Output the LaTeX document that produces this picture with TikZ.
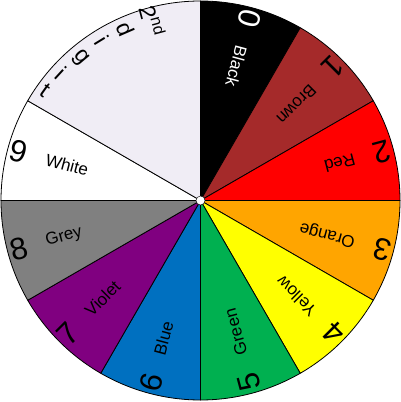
\documentclass[tikz,border=0pt]{standalone}
\usepackage{fontspec}
\setmainfont{Liberation Sans}
\definecolor{cbrown}{RGB}{165,42,42}
\definecolor{cred}{RGB}{255,0,0}
\definecolor{corange}{RGB}{255,165,0}
\definecolor{cyellow}{RGB}{255,255,0}
\definecolor{cgreen}{RGB}{0,176,80}
\definecolor{cblue}{RGB}{0,112,192}
\definecolor{cviolet}{RGB}{128,0,128}
\definecolor{cgrey}{RGB}{128,128,128}
\definecolor{clav}{RGB}{240,237,245}
\tikzset{
  seg/.style={draw=black, line width=0.8pt, line join=round},
  namelbl/.style={anchor=west, inner sep=0pt, font=\fontsize{17}{20}\selectfont},
  diglbl/.style={inner sep=0pt, font=\fontsize{31}{36}\selectfont},
  arclbl/.style={inner sep=0pt, font=\fontsize{23}{27}\selectfont}
}
\begin{document}
\begin{tikzpicture}[x=1pt,y=1pt]
\useasboundingbox (0,0) rectangle (401,402);
\coordinate (O) at (200.5,201.5);
\foreach \a/\b/\col in {60/90/black, 30/60/cbrown, 0/30/cred, -30/0/corange, -60/-30/cyellow, -90/-60/cgreen, -120/-90/cblue, -150/-120/cviolet, -180/-150/cgrey, 150/180/white, 90/150/clav}{
  \filldraw[seg, fill=\col] (O) -- ++(\a:199.5) arc[start angle=\a, end angle=\b, radius=199.5] -- cycle;
}
\foreach \ang/\nm/\dg/\tc in {75/Black/0/white, 45/Brown/1/black, 15/Red/2/black, -15/Orange/3/black, -45/Yellow/4/black, -75/Green/5/black, -105/Blue/6/black, -135/Violet/7/black, -165/Grey/8/black, 165/White/9/black}{
  \node[namelbl, rotate=\ang+180, text=\tc] (n\dg) at ([shift={(\ang:160)}]O) {\nm};
  \node[diglbl, rotate=\ang+180, text=\tc] (d\dg) at ([shift={(\ang:188)}]O) {\dg};
}
\node[arclbl, rotate=-75] (s0) at ([shift={(105:186)}]O) {2\textsuperscript{nd}};
\foreach \ang/\ch/\rr [count=\k] in {113.5/d/187, 121.5/i/188, 130/g/186, 137.5/i/189, 144.5/t/190}{
  \node[arclbl, rotate=\ang+180] (s\k) at ([shift={(\ang:\rr)}]O) {\ch};
}
\node[circle, fill=white, draw=black, line width=0.4pt, minimum size=9pt, inner sep=0pt] (ctr) at (O) {};
\end{tikzpicture}
\end{document}
